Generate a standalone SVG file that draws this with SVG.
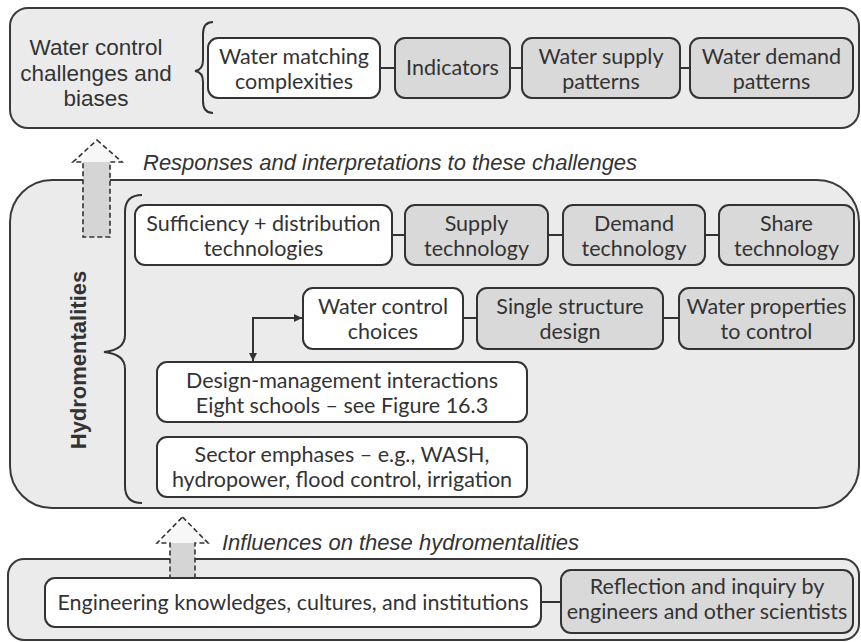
<svg xmlns="http://www.w3.org/2000/svg" width="861" height="642" viewBox="0 0 861 642">
<defs>
<style>
.panel{fill:#ebebeb;stroke:#3a3a3a;stroke-width:2}
.nw{fill:#ffffff;stroke:#333;stroke-width:2}
.ng{fill:#d9d9d9;stroke:#333;stroke-width:2}
.t{font-family:Lato,"Open Sans",sans-serif;font-size:21.5px;fill:#333;text-anchor:middle}
.lab{font-family:"Liberation Sans",Arial,sans-serif;font-size:22.5px;fill:#333;text-anchor:middle}
.it{font-family:"Liberation Sans",Arial,sans-serif;font-size:22px;font-style:italic;fill:#333}
.bold{font-family:"Liberation Sans",Arial,sans-serif;font-size:22px;font-weight:bold;fill:#333;text-anchor:middle}
.ln{fill:none;stroke:#333;stroke-width:2}
.brace{fill:none;stroke:#333;stroke-width:2}
.dash{fill:none;stroke:#333;stroke-width:1.6;stroke-dasharray:5,3}
</style>
<marker id="ah" viewBox="0 0 10 10" refX="10" refY="5" markerWidth="8" markerHeight="8" markerUnits="userSpaceOnUse" orient="auto-start-reverse">
<path d="M0,0 L10,5 L0,10 Z" fill="#333"/>
</marker>
</defs>
<rect width="861" height="642" fill="#ffffff"/>

<!-- panels -->
<g id="panel-top">
<rect class="panel" x="10" y="8" width="849" height="120" rx="18"/>
<text class="lab" x="96" y="55">Water control</text>
<text class="lab" x="96" y="80.5">challenges and</text>
<text class="lab" x="96" y="106">biases</text>
<path class="brace" d="M213,22 Q203,22 203,34 L203,60 Q203,70 195,71 Q203,72 203,82 L203,101 Q203,113 213,113"/>
</g>

<g id="panel-middle">
<rect class="panel" x="10" y="180" width="849" height="328" rx="42"/>
<text class="bold" transform="translate(86,360) rotate(-90)">Hydromentalities</text>
<path class="brace" d="M142,195 Q125,195 125,212 L125,335 Q125,350 104,352 Q125,354 125,369 L125,486 Q125,503 142,503"/>
</g>

<g id="panel-bottom">
<rect class="panel" x="8" y="559" width="851" height="81" rx="16"/>
</g>

<!-- arrows (dashed block arrows) -->
<g id="arrow-responses">
<rect x="83" y="162" width="27" height="75" fill="#d5d5d5"/>
<polygon points="97,140 122,162 73,162" fill="#f7f7f7"/>
<polygon class="dash" points="97,140 122,162 110,162 110,237 83,237 83,162 73,162"/>
</g>
<text class="it" x="143" y="170">Responses and interpretations to these challenges</text>

<g id="arrow-influences">
<rect x="170" y="543" width="25" height="45" fill="#d5d5d5"/>
<polygon points="182.5,517 208,543 157,543" fill="#f7f7f7"/>
<polygon class="dash" points="182.5,517 208,543 195,543 195,588 170,588 170,543 157,543"/>
</g>
<text class="it" x="222" y="550">Influences on these hydromentalities</text>

<!-- connectors -->
<g id="connectors">
<line class="ln" x1="380" y1="68" x2="395" y2="68"/>
<line class="ln" x1="510" y1="68" x2="522" y2="68"/>
<line class="ln" x1="680" y1="68" x2="690" y2="68"/>
<line class="ln" x1="392" y1="235" x2="405" y2="235"/>
<line class="ln" x1="548" y1="235" x2="563" y2="235"/>
<line class="ln" x1="705" y1="235" x2="719" y2="235"/>
<line class="ln" x1="463" y1="318" x2="477" y2="318"/>
<line class="ln" x1="663" y1="318" x2="679" y2="318"/>
<line class="ln" x1="541" y1="602" x2="561" y2="602"/>
<path class="ln" d="M253,361 V318 H302" marker-start="url(#ah)" marker-end="url(#ah)"/>
</g>

<!-- top row nodes -->
<g id="n-matching">
<rect class="nw" x="208" y="38" width="172" height="60" rx="10"/>
<text class="t" x="294" y="63.5">Water matching</text>
<text class="t" x="294" y="88.5">complexities</text>
</g>
<g id="n-indicators">
<rect class="ng" x="395" y="38" width="115" height="60" rx="10"/>
<text class="t" x="452.5" y="75">Indicators</text>
</g>
<g id="n-supply-patterns">
<rect class="ng" x="522" y="38" width="158" height="60" rx="10"/>
<text class="t" x="601" y="63.5">Water supply</text>
<text class="t" x="601" y="88.5">patterns</text>
</g>
<g id="n-demand-patterns">
<rect class="ng" x="690" y="38" width="163" height="60" rx="10"/>
<text class="t" x="771.5" y="63.5">Water demand</text>
<text class="t" x="771.5" y="88.5">patterns</text>
</g>

<!-- middle nodes -->
<g id="n-sufficiency">
<rect class="nw" x="135" y="205" width="257" height="60" rx="10"/>
<text class="t" x="263.5" y="230.5">Sufficiency + distribution</text>
<text class="t" x="263.5" y="255.5">technologies</text>
</g>
<g id="n-supply-tech">
<rect class="ng" x="405" y="205" width="143" height="60" rx="10"/>
<text class="t" x="476.5" y="230.5">Supply</text>
<text class="t" x="476.5" y="255.5">technology</text>
</g>
<g id="n-demand-tech">
<rect class="ng" x="563" y="205" width="142" height="60" rx="10"/>
<text class="t" x="634" y="230.5">Demand</text>
<text class="t" x="634" y="255.5">technology</text>
</g>
<g id="n-share-tech">
<rect class="ng" x="719" y="205" width="135" height="60" rx="10"/>
<text class="t" x="786.5" y="230.5">Share</text>
<text class="t" x="786.5" y="255.5">technology</text>
</g>
<g id="n-choices">
<rect class="nw" x="303" y="288" width="160" height="61" rx="10"/>
<text class="t" x="383" y="313.5">Water control</text>
<text class="t" x="383" y="338.5">choices</text>
</g>
<g id="n-single">
<rect class="ng" x="477" y="288" width="186" height="61" rx="10"/>
<text class="t" x="570" y="313.5">Single structure</text>
<text class="t" x="570" y="338.5">design</text>
</g>
<g id="n-properties">
<rect class="ng" x="679" y="288" width="175" height="61" rx="10"/>
<text class="t" x="766.5" y="313.5">Water properties</text>
<text class="t" x="766.5" y="338.5">to control</text>
</g>
<g id="n-design-mgmt">
<rect class="nw" x="157" y="362" width="370" height="60" rx="10"/>
<text class="t" x="342" y="387.5">Design-management interactions</text>
<text class="t" x="342" y="412.5">Eight schools – see Figure 16.3</text>
</g>
<g id="n-sector">
<rect class="nw" x="157" y="437" width="370" height="60" rx="10"/>
<text class="t" x="342" y="462">Sector emphases – e.g., WASH,</text>
<text class="t" x="342" y="487">hydropower, flood control, irrigation</text>
</g>

<!-- bottom nodes -->
<g id="n-engineering">
<rect class="nw" x="45" y="578" width="496" height="49" rx="10"/>
<text class="t" x="293" y="610">Engineering knowledges, cultures, and institutions</text>
</g>
<g id="n-reflection">
<rect class="ng" x="561" y="570" width="292" height="63" rx="10"/>
<text class="t" x="707" y="594">Reflection and inquiry by</text>
<text class="t" x="707" y="619">engineers and other scientists</text>
</g>
</svg>
